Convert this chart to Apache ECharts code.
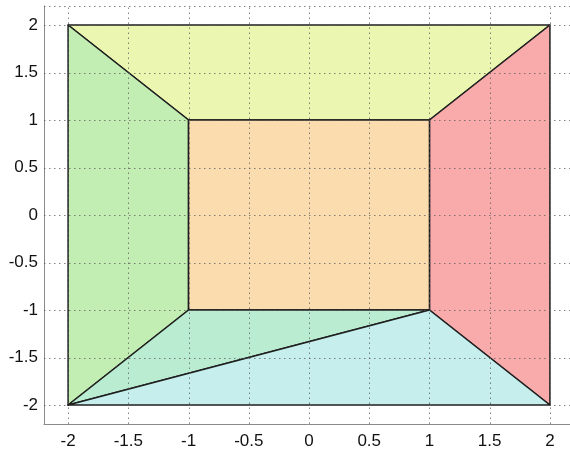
<!DOCTYPE html>
<html>
<head>
<meta charset="utf-8">
<script src="https://cdn.jsdelivr.net/npm/echarts@6/dist/echarts.min.js"></script>
<style>
  html, body { margin: 0; padding: 0; background: #ffffff; overflow: hidden; }
  #chart { width: 570px; height: 449px; }
</style>
</head>
<body>
<div id="chart"></div>
<script>
// Tick positions shared by both axes
const tickValues = [-2, -1.5, -1, -0.5, 0, 0.5, 1, 1.5, 2];
const axisRange = [-2.2, 2.2];

// Face vertices (x, y)
const faceTop    = [[-2, 2], [2, 2], [1, 1], [-1, 1]];
const faceLeft   = [[-2, 2], [-1, 1], [-1, -1], [-2, -2]];
const faceRight  = [[2, 2], [2, -2], [1, -1], [1, 1]];
const faceCenter = [[-1, 1], [1, 1], [1, -1], [-1, -1]];
const faceLowerA = [[-2, -2], [-1, -1], [1, -1]];
const faceLowerB = [[-2, -2], [1, -1], [2, -2]];

const faces = [faceTop, faceLeft, faceRight, faceCenter, faceLowerA, faceLowerB];
const faceColors = ['#ebf7b0', '#c2edb3', '#f9aaaa', '#fbdcae', '#b9ecd1', '#c5eeec'];

const chart = echarts.init(document.getElementById('chart'), null, { renderer: 'canvas' });

const faceSeries = {
  type: 'custom',
  coordinateSystem: 'cartesian2d',
  z: 2,
  clip: false,
  data: faces.map((f, i) => ({ value: [i] })),
  renderItem: function (params, api) {
    const idx = params.dataIndex;
    const pts = faces[idx].map(p => api.coord(p));
    return {
      type: 'polygon',
      shape: { points: pts },
      style: { fill: faceColors[idx], stroke: '#1f1f1f', lineWidth: 1.5, lineJoin: 'round' }
    };
  },
  silent: true
};

// Dotted grid lines at every tick plus the upper border, drawn over the faces
const gridLinesX = tickValues.concat([axisRange[1]]);
const gridLinesY = tickValues.concat([axisRange[1]]);
const gridSeries = {
  type: 'custom',
  coordinateSystem: 'cartesian2d',
  z: 5,
  clip: false,
  data: [[0]],
  renderItem: function (params, api) {
    const children = [];
    const dotted = { stroke: 'rgba(90,90,90,0.75)', lineWidth: 1, lineDash: [1.5, 3.5] };
    gridLinesX.forEach(x => {
      const a = api.coord([x, axisRange[0]]);
      const b = api.coord([x, axisRange[1]]);
      children.push({ type: 'line', shape: { x1: Math.round(a[0]) + 0.5, y1: a[1], x2: Math.round(b[0]) + 0.5, y2: b[1] }, style: dotted });
    });
    gridLinesY.forEach(y => {
      const a = api.coord([axisRange[0], y]);
      const b = api.coord([axisRange[1], y]);
      children.push({ type: 'line', shape: { x1: a[0], y1: Math.round(a[1]) + 0.5, x2: b[0], y2: Math.round(b[1]) + 0.5 }, style: dotted });
    });
    return { type: 'group', children: children };
  },
  silent: true
};

const labelStyle = {
  color: '#111111',
  fontFamily: 'Liberation Sans, Arial, sans-serif',
  fontSize: 17
};

chart.setOption({
  animation: false,
  grid: { left: 44, top: 6, width: 530, height: 418, containLabel: false, outerBoundsMode: 'none' },
  xAxis: {
    type: 'value',
    min: axisRange[0],
    max: axisRange[1],
    axisLine: { show: true, onZero: false, lineStyle: { color: '#8a8a8a', width: 1 } },
    axisTick: { show: false },
    splitLine: { show: false },
    axisLabel: Object.assign({ customValues: tickValues, margin: 9, formatter: v => String(v) }, labelStyle)
  },
  yAxis: {
    type: 'value',
    min: axisRange[0],
    max: axisRange[1],
    axisLine: { show: true, onZero: false, lineStyle: { color: '#8a8a8a', width: 1 } },
    axisTick: { show: false },
    splitLine: { show: false },
    axisLabel: Object.assign({ customValues: tickValues, margin: 6, formatter: v => String(v) }, labelStyle)
  },
  series: [faceSeries, gridSeries]
});
</script>
</body>
</html>
